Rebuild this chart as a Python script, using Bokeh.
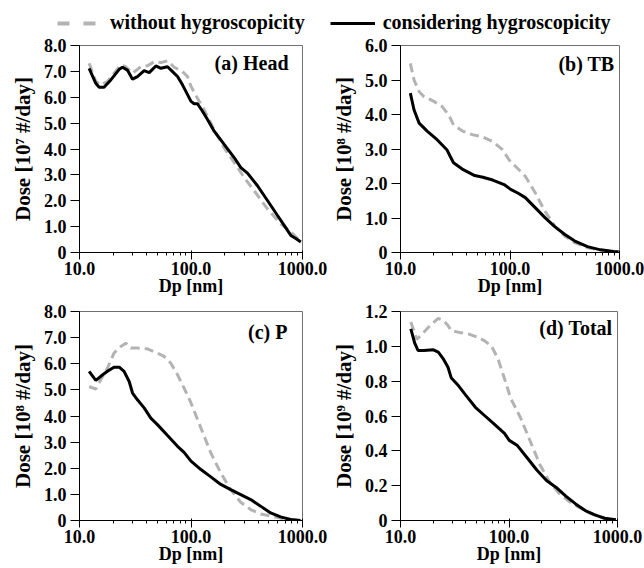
from bokeh.plotting import figure
from bokeh.models import (FixedTicker, CustomJSTickFormatter, Label, Legend,
                          LegendItem, Range1d)
from bokeh.layouts import column, row
from bokeh.embed import file_html
from bokeh.resources import INLINE

# ---------------- data ----------------
# (a) Head  [10^7 #/day]
a_dp_with = [12.2, 14.0, 15.0, 16.6, 19.1, 22.7, 24.3, 26.9, 29.9, 33.1, 38.0, 42.2,
             48.4, 53.7, 61.6, 68.3, 75.7, 83.9, 93.1, 100, 106.7, 114.3, 126.8,
             140.6, 161.4, 198.3, 243.8, 280, 321, 394.6, 485, 597, 685, 786, 871, 966]
a_dose_with = [7.12, 6.54, 6.39, 6.39, 6.67, 7.08, 7.16, 7.05, 6.70, 6.80, 7.03, 6.95,
               7.21, 7.12, 7.18, 6.99, 6.80, 6.48, 6.10, 5.84, 5.75, 5.75, 5.46,
               5.14, 4.69, 4.18, 3.67, 3.28, 3.07, 2.58, 2.01, 1.43, 1.05, 0.66, 0.54, 0.41]
a_dp_without = [12.2, 14.0, 15.5, 17.8, 20.4, 23.5, 26.0, 29.9, 35.5, 40.7, 46.7, 53.7,
                61.6, 70.7, 83.9, 93.1, 100, 114, 131, 161, 198, 244, 300, 368, 485,
                638, 786, 966]
a_dose_without = [7.31, 6.61, 6.48, 6.61, 6.93, 7.25, 7.18, 6.93, 7.18, 7.22, 7.37, 7.34,
                  7.41, 7.16, 6.99, 6.80, 6.42, 5.97, 5.52, 4.75, 4.05, 3.48, 2.90, 2.39,
                  1.69, 1.11, 0.79, 0.43]

# (b) TB  [10^8 #/day]
b_dp_with = [12.3, 13.3, 14.8, 17.6, 21.6, 26.5, 28.4, 30.5, 37.4, 47.6, 56.5, 69.5,
             88.3, 101.4, 120, 138, 169.8, 208.5, 256, 315, 387, 510, 671, 884, 980]
b_dose_with = [4.62, 4.13, 3.75, 3.51, 3.27, 2.98, 2.79, 2.60, 2.40, 2.23, 2.18, 2.10,
               1.97, 1.83, 1.71, 1.59, 1.30, 1.01, 0.75, 0.53, 0.34, 0.17, 0.077, 0.03, 0.02]
b_dp_without = [12.3, 13.3, 14.8, 16.4, 20.2, 24.0, 27.5, 30.5, 37.4, 46, 56.5, 69.5,
                85.4, 97.9, 112, 138, 170, 208, 256, 315, 387, 510, 671, 884, 980]
b_dose_without = [5.48, 5.0, 4.66, 4.52, 4.38, 4.23, 3.99, 3.70, 3.51, 3.41, 3.35, 3.22,
                  2.98, 2.69, 2.50, 2.21, 1.73, 1.20, 0.77, 0.48, 0.29, 0.14, 0.07, 0.03, 0.02]

# (c) P  [10^8 #/day]
c_dp_with = [12.2, 14.0, 15.5, 17.8, 20.4, 22.7, 25.1, 27.9, 29.9, 33.1, 38.0, 43.6,
             50, 61.6, 75.7, 86.7, 100, 122.7, 150.5, 185, 227, 279, 343, 421, 518,
             636, 781, 960]
c_dose_with = [5.71, 5.36, 5.52, 5.71, 5.87, 5.87, 5.71, 5.32, 4.88, 4.62, 4.31, 3.92,
               3.67, 3.25, 2.84, 2.61, 2.27, 1.95, 1.67, 1.38, 1.18, 0.99, 0.80, 0.55,
               0.29, 0.14, 0.04, 0.0]
c_dp_without = [12.2, 14.0, 15.5, 17.8, 20.4, 23.5, 26.0, 28.9, 33.1, 40.7, 50, 57.3,
                65.7, 75.7, 86.7, 100, 114.6, 131.5, 150.5, 185, 227, 279, 343, 421,
                518, 636, 781, 960]
c_dose_without = [5.13, 5.03, 5.39, 5.83, 6.41, 6.66, 6.79, 6.60, 6.60, 6.57, 6.41, 6.28,
                  6.03, 5.58, 5.07, 4.50, 3.86, 3.22, 2.59, 1.82, 1.18, 0.70, 0.42, 0.25,
                  0.17, 0.09, 0.04, 0.0]

# (d) Total  [10^9 #/day]
d_dp_with = [12.45, 13.5, 14.5, 16.4, 20.1, 22.3, 24.7, 27.4, 29.3, 33.6, 39.9, 49,
             60.2, 74, 90.8, 100.6, 119.5, 146.9, 180.4, 221.6, 272.2, 334, 411, 504,
             619, 760, 965]
d_dose_with = [1.10, 1.02, 0.976, 0.976, 0.98, 0.967, 0.93, 0.88, 0.82, 0.78, 0.72, 0.65,
               0.60, 0.55, 0.50, 0.46, 0.43, 0.36, 0.29, 0.23, 0.19, 0.14, 0.095, 0.057,
               0.032, 0.013, 0.004]
d_dp_without = [12.45, 13.1, 14.1, 15.8, 18.8, 22.3, 24.7, 27.4, 29.3, 34.8, 42.7, 52.5,
                60.2, 69, 79, 90.8, 104, 127.7, 157, 193, 237, 291, 357, 439, 539, 662,
                813, 965]
d_dose_without = [1.14, 1.10, 1.04, 1.07, 1.12, 1.16, 1.15, 1.12, 1.09, 1.08, 1.07, 1.05,
                  1.03, 1.00, 0.93, 0.815, 0.70, 0.59, 0.455, 0.32, 0.22, 0.155, 0.11,
                  0.076, 0.047, 0.023, 0.009, 0.004]

x_ticks = [10, 100, 1000]
x_minor = [20, 30, 40, 50, 60, 70, 80, 90, 200, 300, 400, 500, 600, 700, 800, 900]
y_ticks_a = [0, 1, 2, 3, 4, 5, 6, 7, 8]
y_ticks_b = [0, 1, 2, 3, 4, 5, 6]
y_ticks_c = [0, 1, 2, 3, 4, 5, 6, 7, 8]
y_ticks_d = [0, 0.2, 0.4, 0.6, 0.8, 1.0, 1.2]

titles = ["(a) Head", "(b) TB", "(c) P", "(d) Total"]
y_labels = ["Dose [10\u2077 #/day]", "Dose [10\u2078 #/day]",
            "Dose [10\u2078 #/day]", "Dose [10\u2079 #/day]"]
x_label = "Dp [nm]"
legend_labels = ["without hygroscopicity", "considering hygroscopicity"]

FONT = "Liberation Serif"
GRAY = "#b3b3b3"
BLACK = "#000000"


def panel(width, height, borders, y_max, y_ticks, title, ylab,
          dp_wo, dose_wo, dp_w, dose_w, title_inset):
    bl, br, bt, bb = borders
    p = figure(width=width, height=height, x_axis_type="log",
               x_range=Range1d(10, 1000), y_range=Range1d(0, y_max),
               output_backend="svg", toolbar_location=None,
               min_border_left=bl, min_border_right=br,
               min_border_top=bt, min_border_bottom=bb)
    p.xgrid.visible = False
    p.ygrid.visible = False
    p.outline_line_color = "#707070"
    p.outline_line_width = 1
    p.background_fill_color = "white"
    p.border_fill_color = "white"

    p.line(dp_wo, dose_wo, line_color=GRAY, line_width=3, line_dash="9 5")
    p.line(dp_w, dose_w, line_color=BLACK, line_width=3)

    xa = p.xaxis[0]
    xa.ticker = FixedTicker(ticks=x_ticks, minor_ticks=x_minor)
    xa.formatter = CustomJSTickFormatter(code="return tick.toFixed(1);")
    xa.major_tick_in = 2
    xa.major_tick_out = 7
    xa.minor_tick_in = 0
    xa.minor_tick_out = 3
    xa.axis_line_color = BLACK
    xa.major_tick_line_color = BLACK
    xa.minor_tick_line_color = BLACK
    xa.major_label_text_font = FONT
    xa.major_label_text_font_style = "bold"
    xa.major_label_text_font_size = "18px"
    xa.major_label_text_color = BLACK
    xa.major_label_standoff = 2
    xa.axis_label = x_label
    xa.axis_label_text_font = FONT
    xa.axis_label_text_font_style = "bold"
    xa.axis_label_text_font_size = "18px"
    xa.axis_label_text_color = BLACK
    xa.axis_label_standoff = -2

    ya = p.yaxis[0]
    ya.ticker = FixedTicker(ticks=y_ticks, minor_ticks=[])
    ya.formatter = CustomJSTickFormatter(
        code="return tick == 0 ? '0' : tick.toFixed(1);")
    ya.major_tick_in = 0
    ya.major_tick_out = 9
    ya.minor_tick_in = 0
    ya.minor_tick_out = 0
    ya.axis_line_color = BLACK
    ya.major_tick_line_color = BLACK
    ya.major_label_text_font = FONT
    ya.major_label_text_font_style = "bold"
    ya.major_label_text_font_size = "18px"
    ya.major_label_text_color = BLACK
    ya.major_label_standoff = 4
    ya.axis_label = ylab
    ya.axis_label_text_font = FONT
    ya.axis_label_text_font_style = "bold"
    ya.axis_label_text_font_size = "21px"
    ya.axis_label_text_color = BLACK
    ya.axis_label_standoff = 6

    frame_w = width - bl - br
    frame_h = height - bt - bb
    ix, iy = title_inset
    p.add_layout(Label(x=frame_w - ix, y=frame_h - iy, x_units="screen",
                       y_units="screen", text=title, text_align="right",
                       text_baseline="top", text_font=FONT,
                       text_font_style="bold", text_font_size="20px",
                       text_color=BLACK))
    return p


pa = panel(328, 267, (79, 26, 11, 48), 8, y_ticks_a, titles[0], y_labels[0],
           a_dp_without, a_dose_without, a_dp_with, a_dose_with, (14, 7))
pb = panel(316, 267, (68, 25, 11, 49), 6, y_ticks_b, titles[1], y_labels[1],
           b_dp_without, b_dose_without, b_dp_with, b_dose_with, (9, 7))
pc = panel(328, 267, (79, 26, 10, 48), 8, y_ticks_c, titles[2], y_labels[2],
           c_dp_without, c_dose_without, c_dp_with, c_dose_with, (15, 9))
pd = panel(316, 267, (65, 27, 10, 48), 1.2, y_ticks_d, titles[3], y_labels[3],
           d_dp_without, d_dose_without, d_dp_with, d_dose_with, (12, 5))

# legend strip on top (its lines lie outside its visible ranges; only the
# legend glyphs show)
lf = figure(width=644, height=34, output_backend="svg", toolbar_location=None,
            x_range=Range1d(0, 1), y_range=Range1d(0, 1),
            x_axis_location=None, y_axis_location=None,
            min_border_left=0, min_border_right=0, min_border_top=0,
            min_border_bottom=0)
lf.xgrid.visible = False
lf.ygrid.visible = False
lf.outline_line_color = None
r_wo = lf.line(a_dp_without, a_dose_without, line_color=GRAY, line_width=4,
               line_dash="12 14")
r_w = lf.line(a_dp_with, a_dose_with, line_color=BLACK, line_width=3)
legend = Legend(items=[LegendItem(label=legend_labels[0], renderers=[r_wo]),
                       LegendItem(label=legend_labels[1], renderers=[r_w])],
                orientation="horizontal", location=(57, 0), padding=0, margin=0,
                spacing=25, glyph_width=45, glyph_height=20, label_height=20,
                label_standoff=8, label_text_font=FONT,
                label_text_font_style="bold", label_text_font_size="20px",
                label_text_color=BLACK, border_line_color=None,
                background_fill_alpha=0)
lf.add_layout(legend, "center")

layout = column(lf, row(pa, pb), row(pc, pd))
open("out.html", "w").write(file_html(layout, INLINE))
